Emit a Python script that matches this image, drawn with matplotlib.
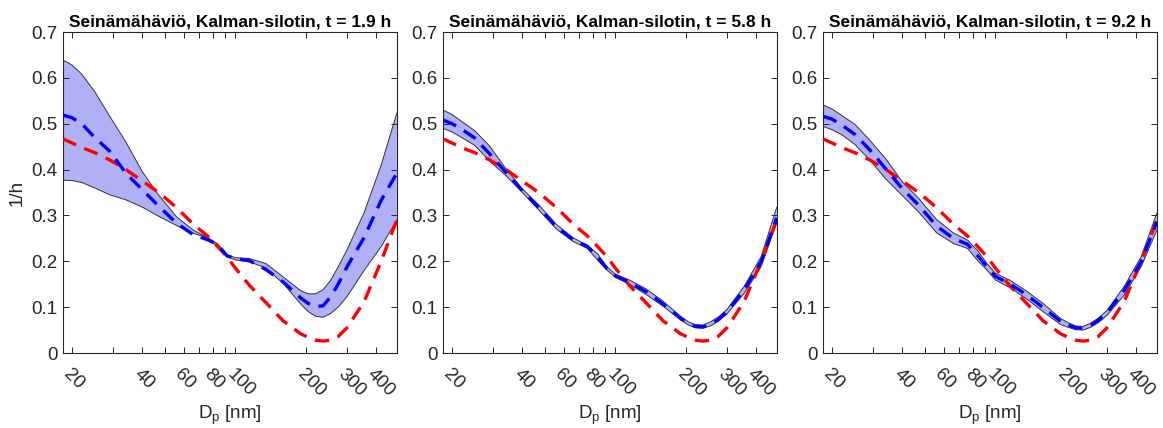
import numpy as np
import matplotlib
matplotlib.use("Agg")
import matplotlib.pyplot as plt

plt.rcParams['font.family'] = ['Liberation Sans', 'DejaVu Sans']

# Particle diameter grid (nm)
dp = [18.3, 20, 22, 25, 29, 34, 40, 47, 56, 66, 76, 84, 92, 100, 115, 135,
      160, 190, 205, 220, 237, 255, 275, 300, 355, 420, 490]

# Reference (true) wall-loss rate, same in every panel (1/h)
true_rate = [0.467, 0.458, 0.448, 0.437, 0.421, 0.400, 0.375, 0.350, 0.317,
             0.281, 0.255, 0.232, 0.210, 0.185, 0.147, 0.110, 0.070, 0.042,
             0.034, 0.028, 0.026, 0.028, 0.036, 0.055, 0.112, 0.200, 0.290]

times = ["1.9", "5.8", "9.2"]

mean_1 = [0.519, 0.513, 0.500, 0.470, 0.440, 0.392, 0.356, 0.320, 0.283,
          0.258, 0.247, 0.236, 0.212, 0.206, 0.201, 0.182, 0.155, 0.120,
          0.108, 0.101, 0.103, 0.122, 0.150, 0.188, 0.252, 0.333, 0.392]
upper_1 = [0.639, 0.628, 0.608, 0.570, 0.516, 0.460, 0.395, 0.344, 0.297,
           0.268, 0.252, 0.238, 0.214, 0.208, 0.206, 0.195, 0.166, 0.136,
           0.129, 0.129, 0.138, 0.158, 0.188, 0.225, 0.306, 0.410, 0.523]
lower_1 = [0.377, 0.376, 0.372, 0.360, 0.345, 0.334, 0.318, 0.298, 0.278,
           0.261, 0.251, 0.232, 0.210, 0.203, 0.199, 0.185, 0.152, 0.107,
           0.090, 0.080, 0.078, 0.086, 0.100, 0.123, 0.180, 0.232, 0.290]

mean_2 = [0.508, 0.500, 0.488, 0.469, 0.434, 0.394, 0.354, 0.317, 0.275,
          0.247, 0.232, 0.209, 0.184, 0.168, 0.154, 0.134, 0.107, 0.076,
          0.065, 0.058, 0.057, 0.063, 0.073, 0.090, 0.137, 0.199, 0.295]
upper_2 = [0.530, 0.520, 0.505, 0.485, 0.451, 0.402, 0.358, 0.323, 0.280,
           0.251, 0.235, 0.216, 0.188, 0.172, 0.159, 0.140, 0.113, 0.080,
           0.068, 0.062, 0.061, 0.068, 0.078, 0.095, 0.145, 0.210, 0.318]
lower_2 = [0.490, 0.482, 0.470, 0.453, 0.418, 0.387, 0.350, 0.312, 0.270,
           0.243, 0.228, 0.202, 0.181, 0.165, 0.150, 0.128, 0.102, 0.072,
           0.061, 0.055, 0.054, 0.059, 0.069, 0.085, 0.130, 0.188, 0.285]

mean_3 = [0.516, 0.510, 0.497, 0.477, 0.443, 0.401, 0.358, 0.322, 0.277,
          0.250, 0.237, 0.212, 0.188, 0.167, 0.151, 0.128, 0.099, 0.069,
          0.061, 0.055, 0.054, 0.060, 0.071, 0.088, 0.136, 0.199, 0.286]
upper_3 = [0.541, 0.532, 0.518, 0.499, 0.464, 0.423, 0.373, 0.337, 0.291,
           0.262, 0.246, 0.223, 0.195, 0.174, 0.159, 0.136, 0.108, 0.075,
           0.066, 0.059, 0.058, 0.065, 0.076, 0.093, 0.145, 0.210, 0.305]
lower_3 = [0.494, 0.487, 0.476, 0.455, 0.421, 0.379, 0.343, 0.307, 0.262,
           0.239, 0.228, 0.201, 0.181, 0.159, 0.143, 0.119, 0.090, 0.062,
           0.056, 0.051, 0.050, 0.056, 0.066, 0.082, 0.126, 0.188, 0.268]

xticks = [20, 30, 40, 50, 60, 70, 80, 90, 100, 200, 300, 400]
xticklabels = ["20", "", "40", "", "60", "", "80", "", "100", "200", "300", "400"]
yticks = [0, 0.1, 0.2, 0.3, 0.4, 0.5, 0.6, 0.7]
yticklabels = ["0", "0.1", "0.2", "0.3", "0.4", "0.5", "0.6", "0.7"]

panels = [(mean_1, upper_1, lower_1), (mean_2, upper_2, lower_2),
          (mean_3, upper_3, lower_3)]

fig = plt.figure(figsize=(11.63, 4.28), dpi=100)
lefts = [0.0542, 0.3809, 0.7077]
W, B, H = 0.2870, 0.1752, 0.750
axc = '#262626'
dash = (0, (4.3, 2.7))

for i, (m, u, l) in enumerate(panels):
    ax = fig.add_axes([lefts[i], B, W, H])
    ax.fill_between(dp, l, u, facecolor='#b0b0f6', edgecolor='none', zorder=1)
    ax.plot(dp, u, color='#333333', lw=0.7, zorder=2)
    ax.plot(dp, l, color='#333333', lw=0.7, zorder=2)
    ax.plot(dp, true_rate, color='#ff0000', lw=2.4, linestyle=dash, zorder=3)
    ax.plot(dp, m, color='#0000ff', lw=2.4, linestyle=dash, zorder=4)
    ax.set_xscale('log')
    ax.set_xlim(18.3, 490)
    ax.set_ylim(0, 0.7)
    ax.set_xticks(xticks)
    ax.set_xticklabels(xticklabels)
    ax.minorticks_off()
    ax.set_yticks(yticks)
    ax.set_yticklabels(yticklabels)
    ax.tick_params(axis='both', which='both', direction='in', top=True,
                   right=True, length=4, width=0.7, colors=axc,
                   labelsize=13.5)
    ax.tick_params(axis='x', pad=9)
    ax.tick_params(axis='y', pad=4)
    for lab in ax.get_xticklabels():
        lab.set_rotation(-45)
        lab.set_rotation_mode('anchor')
        lab.set_ha('left')
        lab.set_va('top')
    for s in ax.spines.values():
        s.set_color(axc)
        s.set_linewidth(0.8)
    ax.set_title(f"Seinämähäviö, Kalman-silotin, t = {times[i]} h",
                 fontsize=12.5, fontweight='bold', pad=4)
    ax.set_xlabel(r"$\mathregular{D_p}$ [nm]", fontsize=13.5, color=axc,
                  labelpad=3)
    if i == 0:
        ax.set_ylabel("1/h", fontsize=13.5, color=axc, labelpad=4)

fig.savefig("out.png", dpi=100)
